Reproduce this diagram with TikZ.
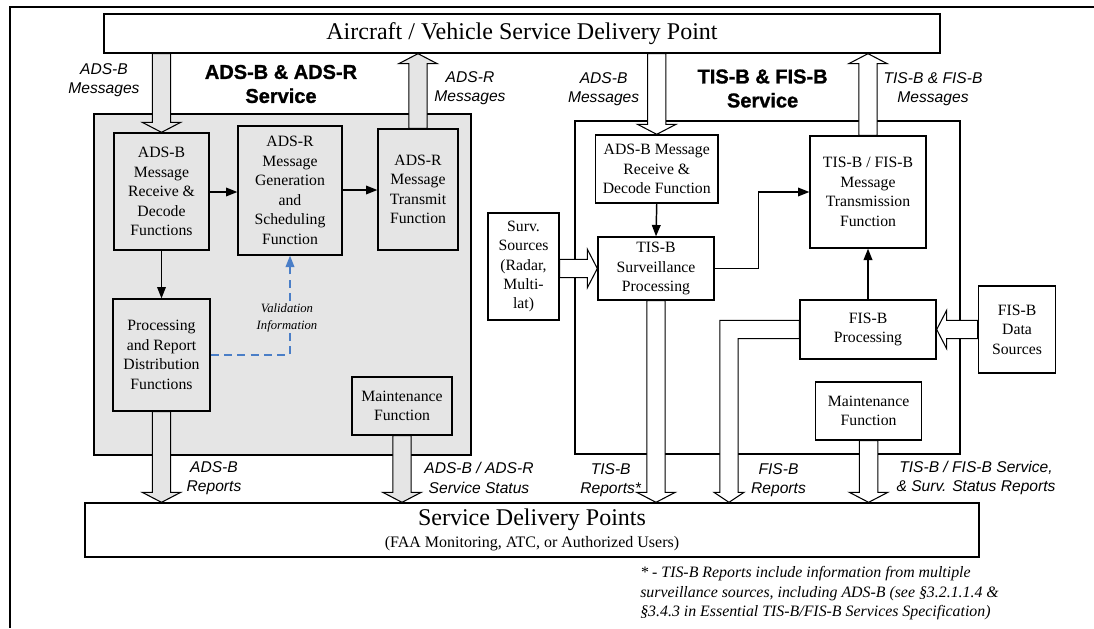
\documentclass[tikz,border=0pt]{standalone}
\usepackage{fontspec}
\setmainfont{Liberation Serif}
\setsansfont{Liberation Sans}
\newfontfamily\heavysans[FakeBold=1.2]{Liberation Sans Bold}
\usetikzlibrary{calc,arrows.meta}

% one drawing unit = one pixel of the layout grid
\newdimen\pxu \pxu=0.75pt
% block-arrow geometry: half shaft, half head, head length
\def\fasw{6.9pt}
\def\fahw{14.4pt}
\def\fahl{7.5pt}
\def\fahwb{11.25pt}

\definecolor{panelgray}{gray}{0.9}
\definecolor{valblue}{RGB}{74,126,199}

\tikzset{
  box/.style={draw, line width=1pt, align=center, inner sep=0pt,
    font=\fontsize{11.8}{14.6}\selectfont},
  graybox/.style={box, fill=panelgray},
  whitebox/.style={box, fill=white},
  panel/.style={draw, line width=1.1pt, inner sep=0pt},
  fatarrow/.style={draw=black, line width=0.8pt, line join=miter},
  grayfat/.style={fatarrow, fill=panelgray},
  whitefat/.style={fatarrow, fill=white},
  flow/.style={line width=1.1pt, -{Triangle[length=8.5pt,width=6.5pt]}},
  valflow/.style={flow, valblue, dash pattern=on 6pt off 4pt},
  lab/.style={font=\sffamily\itshape\fontsize{11.7}{14.5}\selectfont,
    align=center, inner sep=0pt},
  ttl/.style={font=\heavysans\fontsize{15}{18}\selectfont,
    align=center, inner sep=0pt},
}

% straight vertical block arrow from #2 to tip #3
\newcommand\fatv[3][]{%
  \filldraw[#1] let \p1=(#2), \p2=(#3), \p3=($(#3)!\fahl!(#2)$) in
    (\x2-\fasw,\y1) -- (\x2-\fasw,\y3) -- (\x2-\fahw,\y3) -- (\x2,\y2)
    -- (\x2+\fahw,\y3) -- (\x2+\fasw,\y3) -- (\x2+\fasw,\y1) -- cycle;}
% straight horizontal block arrow from #2 to tip #3
\newcommand\fath[3][]{%
  \filldraw[#1] let \p1=(#2), \p2=(#3), \p3=($(#3)!\fahl!(#2)$) in
    (\x1,\y2-\fasw) -- (\x3,\y2-\fasw) -- (\x3,\y2-\fahw) -- (\x2,\y2)
    -- (\x3,\y2+\fahw) -- (\x3,\y2+\fasw) -- (\x1,\y2+\fasw) -- cycle;}

\begin{document}
\begin{tikzpicture}[x=\pxu, y=-\pxu]
\useasboundingbox (0,0) rectangle (1094,628);

% frame lines
\draw[line width=1.8pt] (1094,7) -- (10,7) -- (10,628);

% service areas
\node[panel, fill=panelgray, minimum width=377\pxu, minimum height=341\pxu] (panelL) at (282.5,284.5) {};
\node[panel, fill=white, minimum width=385\pxu, minimum height=333\pxu] (panelR) at (767.5,287.5) {};

% delivery points
\node[box, fill=white, minimum width=836\pxu, minimum height=39\pxu,
      font=\fontsize{18}{20}\selectfont] (topbox) at (522,33.5)
      {Aircraft / Vehicle Service Delivery Point};
\node[box, fill=white, minimum width=894\pxu, minimum height=54\pxu,
      font=\fontsize{18}{18}\selectfont] (botbox) at (532,530)
      {Service Delivery Points\\[-1pt]{\fontsize{12}{14}\selectfont (FAA Monitoring, ATC, or Authorized Users)}};

% ADS-B & ADS-R functions
\node[graybox, minimum width=95\pxu, minimum height=117\pxu] (abrx) at (161.5,191.5)
  {ADS-B\\Message\\Receive \&\\Decode\\Functions};
\node[graybox, minimum width=104\pxu, minimum height=129\pxu] (argen) at (290,190.5)
  {ADS-R\\Message\\Generation\\and\\Scheduling\\Function};
\node[graybox, minimum width=80\pxu, minimum height=121\pxu] (artx) at (418,189.5)
  {ADS-R\\Message\\Transmit\\Function};
\node[graybox, minimum width=97\pxu, minimum height=112\pxu] (proc) at (161.5,355)
  {Processing\\and Report\\Distribution\\Functions};
\node[graybox, minimum width=100\pxu, minimum height=58\pxu] (maintL) at (402,406)
  {Maintenance\\Function};

% TIS-B & FIS-B functions
\node[whitebox, minimum width=71\pxu, minimum height=107\pxu] (survsrc) at (523.5,266.5)
  {Surv.\\Sources\\(Radar,\\Multi-\\lat)};
\node[whitebox, minimum width=122.5\pxu, minimum height=68\pxu] (tbrx) at (656.75,169)
  {ADS-B Message\\Receive \&\\Decode Function};
\node[whitebox, minimum width=116\pxu, minimum height=63\pxu] (tissurv) at (656,268.5)
  {TIS-B\\Surveillance\\Processing};
\node[whitebox, minimum width=116\pxu, minimum height=112\pxu] (tftx) at (868,192)
  {TIS-B / FIS-B\\Message\\Transmission\\Function};
\node[whitebox, minimum width=136\pxu, minimum height=59\pxu] (fisproc) at (868,329.5)
  {FIS-B\\Processing};
\node[whitebox, minimum width=77.5\pxu, minimum height=87\pxu] (fisdata) at (1017,329.5)
  {FIS-B\\Data\\Sources};
\node[whitebox, minimum width=106\pxu, minimum height=58\pxu] (maintR) at (868.6,411)
  {Maintenance\\Function};

% block arrows
\fatv[grayfat]{abrx |- topbox.south}{abrx.north}
\fatv[grayfat]{artx.north}{artx |- topbox.south}
\fatv[grayfat]{proc.south}{proc |- botbox.north}
\fatv[grayfat]{maintL.south}{maintL |- botbox.north}
\fatv[whitefat]{tbrx |- topbox.south}{tbrx.north}
\fatv[whitefat]{tftx.north}{tftx |- topbox.south}
\fatv[whitefat]{tissurv.south}{tissurv |- botbox.north}
\fatv[whitefat]{maintR.south}{maintR |- botbox.north}
\fath[whitefat]{survsrc.east |- tissurv.west}{tissurv.west}
\fath[whitefat]{fisdata.west}{fisproc.east}

% FIS-B reports: bent block arrow
\coordinate (fbx) at (729,0);
\coordinate (fbtip) at (fbx |- botbox.north);
\filldraw[whitefat] let \p1=(fisproc.west), \p2=(fbtip) in
  (\x1,\y1+\fasw) -- (\x2-\fasw,\y1+\fasw) -- (\x2-\fasw,\y2+\fahl)
  -- (\x2-\fahwb,\y2+\fahl) -- (\x2,\y2) -- (\x2+\fahwb,\y2+\fahl)
  -- (\x2+\fasw,\y2+\fahl) -- (\x2+\fasw,\y1-\fasw) -- (\x1,\y1-\fasw) -- cycle;

% function-to-function flows
\draw[flow] (abrx.east |- 0,192) -- (argen.west |- 0,192);
\draw[flow] (argen.east |- 0,190) -- (artx.west |- 0,190);
\draw[flow] (abrx.south) -- (proc.north);
\draw[valflow] (proc.east) -| (argen.south);
\draw[flow] (tbrx.south) -- (tissurv.north);
\draw[flow] (tissurv.east) -- ++(44,0) |- (tftx.west);
\draw[flow] (fisproc.north) -- (tftx.south);

% labels
\node[font=\itshape\fontsize{9.5}{12.5}\selectfont, align=center, inner sep=0pt,
      fill=panelgray] (valinfo) at (287,318) {Validation\\Information};

\node[lab] (l1) at (104,80.5) {ADS-B\\Messages};
\node[ttl] (t1) at (281,84) {ADS-B \& ADS-R\\Service};
\node[lab] (l2) at (470,88.5) {ADS-R\\Messages};
\node[lab] (l3) at (603.6,89) {ADS-B\\Messages};
\node[ttl] (t2) at (762.6,88.5) {TIS-B \& FIS-B\\Service};
\node[lab] (l4) at (933,89) {TIS-B \& FIS-B\\Messages};
\node[lab] (l5) at (214,478) {ADS-B\\Reports};
\node[lab] (l6) at (479,478) {ADS-B / ADS-R\\Service Status};
\node[lab] (l7) at (610.7,480) {TIS-B\\Reports*};
\node[lab] (l8) at (778.5,480) {FIS-B\\Reports};
\node[lab] (l9) at (976,478) {TIS-B / FIS-B Service,\\\& Surv. Status Reports};

\node[font=\itshape\fontsize{11.9}{14.8}\selectfont, align=left, inner sep=0pt,
      anchor=north west] (note) at (640,566)
  {* - TIS-B Reports include information from multiple\\
   surveillance sources, including ADS-B (see §3.2.1.1.4 \&\\
   §3.4.3 in Essential TIS-B/FIS-B Services Specification)};
\end{tikzpicture}
\end{document}
